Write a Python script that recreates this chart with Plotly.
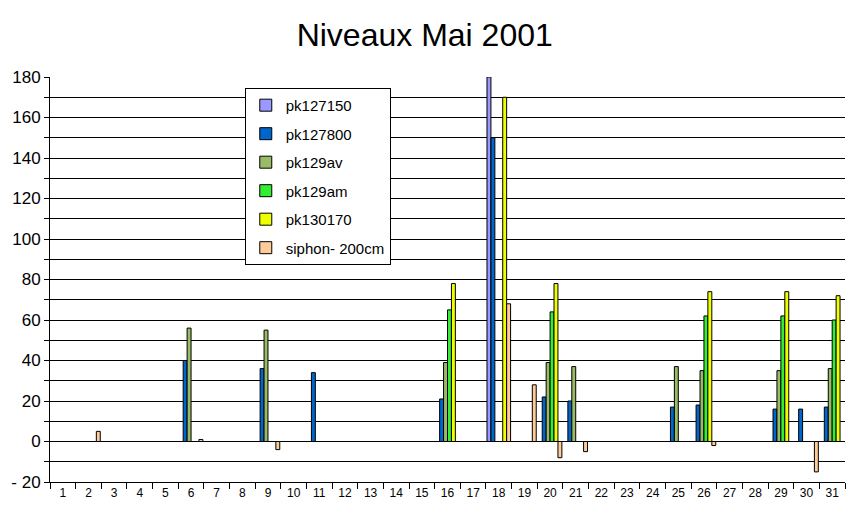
import plotly.graph_objects as go

days = [str(d) for d in range(1, 32)]

def series(vals):
    out = [None] * 31
    for d, v in vals.items():
        out[d - 1] = v
    return out

pk127150 = series({18: 180})
pk127800 = series({6: 40, 9: 36, 11: 34, 16: 21, 18: 150, 20: 22, 21: 20,
                   25: 17, 26: 18, 29: 16, 30: 16, 31: 17})
pk129av = series({6: 56, 9: 55, 16: 39, 20: 39, 21: 37, 25: 37, 26: 35,
                  29: 35, 31: 36})
pk129am = series({16: 65, 20: 64, 26: 62, 29: 62, 31: 60})
pk130170 = series({16: 78, 18: 170, 20: 78, 26: 74, 29: 74, 31: 72})
siphon = series({2: 5, 6: 1, 9: -4, 18: 68, 19: 28, 20: -8, 21: -5,
                 26: -2, 30: -15})

names = ["pk127150", "pk127800", "pk129av", "pk129am", "pk130170", "siphon- 200cm"]
data = [pk127150, pk127800, pk129av, pk129am, pk130170, siphon]
colors = ["#9999FF", "#0066CC", "#99BB66", "#33EE33", "#EEFF00", "#FFCC99"]

ytickvals = list(range(-20, 181, 10))
yticktext = [("- 20" if v == -20 else str(v)) if v % 20 == 0 else "" for v in ytickvals]

fig = go.Figure()
for i, (n, d, c) in enumerate(zip(names, data, colors)):
    fig.add_trace(go.Bar(
        x=days, y=d, name=n,
        marker=dict(color=c, line=dict(color="black", width=1)),
        legendgroup=str(i),
    ))

fig.update_layout(
    width=847, height=507,
    paper_bgcolor="white", plot_bgcolor="white",
    margin=dict(l=42, r=10, t=69, b=33, autoexpand=False),
    title=dict(text="Niveaux Mai 2001", x=0.492, xanchor="center", y=0.947, yanchor="middle",
               font=dict(family="Liberation Sans, Arial", size=32, color="black")),
    barmode="group", bargap=0.08, bargroupgap=0,
    font=dict(family="Liberation Sans, Arial", color="black"),
    showlegend=True,
    legend=dict(x=0.245, y=0.973, xanchor="left", yanchor="top",
                bgcolor="white", bordercolor="black", borderwidth=1,
                font=dict(size=15), traceorder="grouped", tracegroupgap=6,
                itemwidth=30),
    xaxis=dict(type="category", showgrid=False, showline=True, linecolor="black",
               linewidth=1, ticks="outside", tickson="boundaries", ticklen=6,
               tickcolor="black", tickfont=dict(size=12), zeroline=False,
               automargin=False),
    yaxis=dict(range=[-20, 180], tickvals=ytickvals, ticktext=yticktext,
               showgrid=True, gridcolor="black", gridwidth=1,
               showline=True, linecolor="black", linewidth=1,
               ticks="outside", ticklen=5, tickcolor="black",
               tickfont=dict(size=17), zeroline=False, automargin=False),
)

fig.write_html("out.html")
